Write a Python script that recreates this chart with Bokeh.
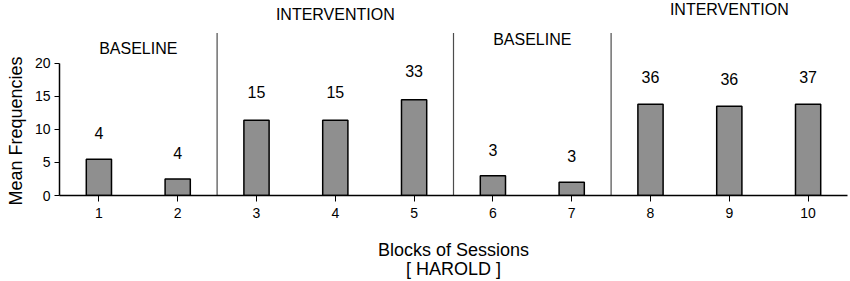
from bokeh.plotting import figure
from bokeh.models import ColumnDataSource, Range1d, FixedTicker, Title
from bokeh.core.properties import value
from bokeh.embed import file_html
from bokeh.resources import INLINE

# ---- data ----
blocks = [1, 2, 3, 4, 5, 6, 7, 8, 9, 10]
mean_freq = [5.5, 2.5, 11.4, 11.4, 14.5, 3.0, 2.0, 13.8, 13.5, 13.8]
counts = ["4", "4", "15", "15", "33", "3", "3", "36", "36", "37"]
phase_names = ["BASELINE", "INTERVENTION", "BASELINE", "INTERVENTION"]
phase_first = [1, 3, 6, 8]
phase_last = [2, 5, 7, 10]
y_ticks = [0, 5, 10, 15, 20]
x_title = ["Blocks of Sessions", "[ HAROLD ]"]
y_title = "Mean Frequencies"

# ---- layout/style helpers (not data) ----
count_label_offset = [26, 26, 28, 28, 29, 26, 26, 27, 27, 27]   # px above bar top
phase_label_y = [22.3, 27.4, 23.6, 28.2]
phase_line_top = 24.6
FONT = "Liberation Sans"

p = figure(width=850, height=281, output_backend="svg", toolbar_location=None,
           x_range=Range1d(0.5, 10.5), y_range=Range1d(0, 29.5),
           min_border_left=59, min_border_right=3, min_border_top=0,
           min_border_bottom=86)
p.outline_line_color = None
p.xgrid.visible = False
p.ygrid.visible = False
p.background_fill_color = "white"

src = ColumnDataSource(dict(x=blocks, top=mean_freq, lab=counts,
                            off=[-o for o in count_label_offset]))
p.vbar(x="x", top="top", bottom=0, width=0.32, source=src,
       fill_color="#8f8f8f", line_color="black", line_width=1.5)
p.text(x="x", y="top", text="lab", source=src, y_offset="off",
       text_align="center", text_baseline="middle",
       text_font=value(FONT), text_font_size="16px", text_color="black")

# phase change lines between phases
change_x = [f - 0.5 for f in phase_first[1:]]
p.segment(x0=change_x, y0=[0] * len(change_x), x1=change_x,
          y1=[phase_line_top] * len(change_x), line_color="#4d4d4d", line_width=1.2)

# phase labels
phase_center = [(a + b) / 2 for a, b in zip(phase_first, phase_last)]
p.text(x=phase_center, y=phase_label_y, text=phase_names,
       text_align="center", text_baseline="middle",
       text_font=value(FONT), text_font_size="16px", text_color="black")

# y title
p.add_layout(Title(text=y_title, align="left", offset=-10, text_font=FONT,
                   text_font_size="18px", text_font_style="normal",
                   vertical_align="top",
                   text_color="black", standoff=8), "left")

# axes
xa = p.xaxis[0]
xa.ticker = FixedTicker(ticks=blocks)
xa.axis_label = "\n".join(x_title)
xa.axis_label_text_font = FONT
xa.axis_label_text_font_size = "18px"
xa.axis_label_text_font_style = "normal"
xa.axis_label_text_color = "black"
xa.axis_label_text_line_height = 0.97
xa.axis_label_standoff = 19
xa.major_label_text_font = FONT
xa.major_label_text_font_size = "14px"
xa.major_label_text_color = "black"
xa.major_label_standoff = 6
xa.major_tick_out = 6
xa.major_tick_in = 0
xa.minor_tick_out = 0
xa.minor_tick_in = 0
xa.axis_line_width = 1.5
xa.axis_line_color = "black"
xa.major_tick_line_color = "black"

ya = p.yaxis[0]
ya.ticker = FixedTicker(ticks=y_ticks)
ya.bounds = (0, 20)
ya.major_label_text_font = FONT
ya.major_label_text_font_size = "14px"
ya.major_label_text_color = "black"
ya.major_label_standoff = 4
ya.major_tick_out = 5
ya.major_tick_in = 0
ya.minor_tick_out = 0
ya.minor_tick_in = 0
ya.axis_line_width = 1.5
ya.axis_line_color = "black"
ya.major_tick_line_color = "black"

open("out.html", "w").write(file_html(p, INLINE))
